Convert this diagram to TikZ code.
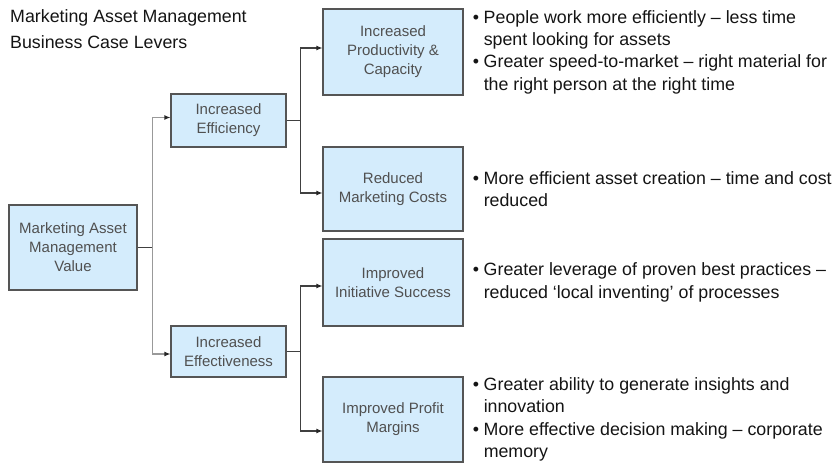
\documentclass[tikz,border=0pt]{standalone}
\usepackage{fontspec}
\setmainfont{Liberation Sans}
\usetikzlibrary{calc,positioning,arrows.meta,shadows}
\definecolor{boxblue}{RGB}{212,236,252}
\definecolor{boxline}{RGB}{85,85,85}
\definecolor{boxtext}{RGB}{80,80,80}
\newcommand{\bul}{\makebox[11pt][l]{\textbullet}}
\newcommand{\ind}{\hspace*{11pt}}
\tikzset{
	lever/.style={draw=boxline, line width=1.1pt, fill=boxblue, text=boxtext, align=center,
		inner sep=0pt, font=\fontsize{15}{19}\selectfont,
		drop shadow={shadow xshift=1pt, shadow yshift=-1pt, opacity=0.35}},
	trunk/.style={draw=black!40, line width=1.8pt},
	link/.style={draw=black!75, line width=1.1pt},
	tip/.style={-{Latex[length=6pt,width=5pt,color=black!85]}},
	notes/.style={align=left, inner sep=0pt, text=black!92, font=\fontsize{17.8}{22.3}\selectfont},
}

\begin{document}
\begin{tikzpicture}[x=1pt, y=-1pt]
			%%%%% START %%%%%
			\useasboundingbox (0,0) rectangle (839,464);
			
			\node[anchor=base west, inner sep=0pt, text=black!92, font=\fontsize{17.8}{22}\selectfont] (title) at (10,22) {Marketing Asset Management};
			\node[anchor=base west, inner sep=0pt, text=black!92, font=\fontsize{17.8}{22}\selectfont] (subtitle) at (10,48) {Business Case Levers};
			
			% value and the two levers
			\node[lever, minimum width=128pt, minimum height=85pt] (root) at (73,247.5) {Marketing Asset\\Management\\Value};
			\node[lever, minimum width=115pt, minimum height=53pt] (eff) at (228.5,120.5) {Increased\\Efficiency};
			\node[lever, minimum width=115pt, minimum height=51pt] (effv) at (228.5,351.5) {Increased\\Effectiveness};
			
			% outcomes
			\node[lever, minimum width=140pt, minimum height=86pt] (prod) at (393,52) {Increased\\Productivity \&\\Capacity};
			\node[lever, minimum width=140pt, minimum height=84pt] (cost) at (393,189) {Reduced\\Marketing Costs};
			\node[lever, minimum width=140pt, minimum height=87pt] (init) at (393,282.5) {Improved\\Initiative Success};
			\node[lever, minimum width=140pt, minimum height=85pt] (prof) at (393,419.5) {Improved Profit\\Margins};
			
			% notes beside each outcome
			\node[notes, right=9pt of prod] (nprod) {\bul People work more efficiently -- less time\\\ind spent looking for assets\\\bul Greater speed-to-market -- right material for\\\ind the right person at the right time};
			\node[notes, right=9pt of cost] (ncost) {\bul More efficient asset creation -- time and cost\\\ind reduced};
			\node[notes, right=9pt of init] (ninit) {\bul Greater leverage of proven best practices --\\\ind reduced `local inventing' of processes};
			\node[notes, right=9pt of prof] (nprof) {\bul Greater ability to generate insights and\\\ind innovation\\\bul More effective decision making -- corporate\\\ind memory};
			
			% connectors
			\draw[link] (root.east) -- ++(15,0) coordinate (j1);
			\draw[trunk,tip] (j1) |- ($(eff.west)+(0,-3)$);
			\draw[trunk,tip] (j1) |- ($(effv.west)+(0,2.5)$);
			
			\draw[link] (eff.east) -- ++(14,0) coordinate (j2);
			\draw[link,tip] (j2) |- ($(prod.west)+(0,-4)$);
			\draw[link,tip] (j2) |- ($(cost.west)+(0,4)$);
			
			\draw[link] (effv.east) -- ++(14,0) coordinate (j3);
			\draw[link,tip] (j3) |- ($(init.west)+(0,3.5)$);
			\draw[link,tip] (j3) |- ($(prof.west)+(0,11.5)$);
			
			%%%%% END %%%%%
\end{tikzpicture}
\end{document}
